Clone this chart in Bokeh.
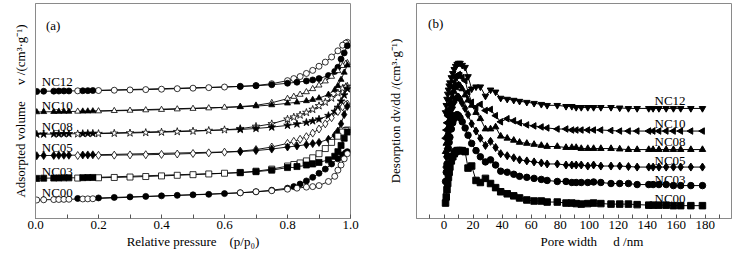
import numpy as np
from bokeh.plotting import figure
from bokeh.layouts import row
from bokeh.models import Range1d, FixedTicker, CustomJSTickFormatter
from bokeh.core.properties import value
from bokeh.embed import file_html
from bokeh.resources import INLINE

# ---------------- data ----------------
samples = ["NC12", "NC10", "NC08", "NC05", "NC03", "NC00"]

ads_p = [0.004, 0.026, 0.058, 0.074, 0.09, 0.106, 0.15, 0.166, 0.182, 0.65, 0.70, 0.75,
         0.80, 0.83, 0.86, 0.88, 0.90, 0.93, 0.95, 0.96, 0.97, 0.98, 0.99]
des_p = [0.99, 0.985, 0.975, 0.96, 0.94, 0.92, 0.90, 0.88, 0.86, 0.84, 0.82, 0.80, 0.75,
         0.70, 0.65, 0.60, 0.55, 0.50, 0.45, 0.40, 0.35, 0.30, 0.25, 0.20, 0.134]

nc12_ads = [123.5, 123.7, 123.8, 123.9, 124, 124, 124.2, 124.3, 124.4, 128.3, 129, 130,
            131.5, 132.5, 133.7, 134.7, 136, 139, 143, 147, 155, 161, 168]
nc12_des = [171.3, 170.5, 168.5, 163, 157, 152, 148, 144, 141, 138, 136, 134, 131, 129.3,
            128.5, 127.8, 127.2, 126.7, 126.2, 125.7, 125.3, 125, 124.7, 124.4, 124.1]
nc10_ads = [103.5, 103.7, 103.8, 103.9, 104, 104, 104.2, 104.3, 104.4, 108.5, 109.3, 110.3,
            112, 113, 114.3, 115.5, 117, 120.5, 125, 129, 135, 142, 149]
nc10_des = [151.3, 150.5, 148.5, 143.5, 138, 133.5, 129.5, 126, 123, 120.5, 118.5, 116.5,
            112.5, 110, 108.8, 108, 107.3, 106.8, 106.3, 105.8, 105.4, 105, 104.7, 104.4, 104.1]
nc08_ads = [81.8, 82, 82.1, 82.2, 82.3, 82.3, 82.5, 82.6, 82.7, 86.5, 87.5, 88.8, 90.5,
            91.8, 93.3, 94.8, 96.5, 100, 104, 108, 114, 120, 126]
nc08_des = [128.5, 128, 126.5, 122, 117, 113, 109.5, 106, 103, 100.5, 98.5, 96.5, 92, 89.5,
            87.3, 86.2, 85.5, 84.9, 84.4, 83.9, 83.5, 83.1, 82.8, 82.5, 82.2]
nc05_ads = [61, 61.2, 61.3, 61.4, 61.5, 61.5, 61.7, 61.8, 61.9, 65, 66, 67.5, 69.5, 70.5,
            71.8, 72.8, 74, 77, 81, 85, 92, 101, 109]
nc05_des = [111.3, 110.5, 108.5, 104, 98, 92, 87, 83, 79.5, 77, 75, 73, 69.5, 67, 65.5,
            64.5, 63.8, 63.2, 62.7, 62.3, 62, 61.8, 61.6, 61.4, 61.2]
nc03_ads = [39, 39.2, 39.3, 39.4, 39.5, 39.5, 39.7, 39.8, 39.9, 44.5, 45.5, 47, 49.5, 50.5,
            52, 53, 54.5, 57, 60.5, 65, 71, 78, 84]
nc03_des = [86, 85.5, 84, 80, 74, 68, 63, 59, 56, 54, 52.5, 51, 48, 46, 44.8, 44, 43.3,
            42.6, 42, 41.4, 40.8, 40.3, 39.9, 39.6, 39.3]
nc00_ads = [18, 18.2, 18.4, 18.5, 18.6, 18.7, 19, 19.1, 19.2, 25, 26, 27, 28.5, 29.5, 30.5,
            31, 32, 36, 41, 47, 52, 58, 63]
nc00_des = [65, 64, 62, 58, 53, 48, 44, 40, 36.5, 33.5, 31, 29.5, 27.5, 26, 25, 24.2, 23.5,
            23, 22.5, 22, 21.5, 21, 20.5, 20, 19.5]

pore_d = [1.0, 1.5, 2.0, 2.5, 3.0, 3.5, 4.0, 5.0, 6.0, 7.0, 8.0, 9.0, 10.0, 11.0, 12.5,
          14.5, 16.5, 19.0, 22.0, 25.0, 28.5, 32.0, 35.5, 39.0, 43.5, 48.0, 52.0, 57.0,
          62.0, 67.0, 71.0, 78.0, 84.0, 88.0, 91.0, 94.5, 99.0, 103.0, 108.0, 115.0,
          121.0, 127.0, 133.0, 141.0, 144.0, 148.0, 153.0, 158.0, 163.0, 170.0, 178.0]
psd_nc12 = [103, 110, 116, 121, 125, 129, 132, 137, 141, 145, 148, 150, 151, 151, 149, 147,
            138, 126, 128, 128, 119, 125, 123, 117, 116, 115, 114, 113, 112, 111, 110, 110,
            109, 109, 108, 108, 108, 108, 108, 108, 107.5, 107, 107, 107, 107, 107, 107,
            107, 107, 107, 107]
psd_nc10 = [78, 86, 93, 100, 106, 111, 115, 122, 128, 133, 137, 139, 140, 139, 137, 134,
            123, 113, 108, 111, 105, 106, 100, 94, 97, 95, 93, 91, 90, 89, 88, 87, 87, 86,
            86, 86, 86, 86, 86, 85.5, 85, 85, 85, 85, 85, 85, 85, 85, 85, 85, 85]
psd_nc08 = [65, 73, 81, 88, 94, 100, 105, 112, 118, 123, 127, 129, 130, 129, 126, 120,
            115, 110, 103, 97, 87, 87, 89, 80, 78, 76, 74, 73, 72, 71, 70, 70, 69, 69, 69,
            68, 68, 68, 68, 68, 67.5, 67, 67, 67, 67, 67, 67, 67, 67, 67, 67]
psd_nc05 = [50, 60, 68, 76, 83, 89, 94, 102, 108, 113, 116, 118, 118, 116, 112, 107, 101,
            92, 85, 78, 71, 75, 69, 63, 61, 59, 57, 56, 55, 54, 53, 53, 52, 52, 52, 52, 51,
            52, 51, 51, 51, 50.5, 50, 50, 50, 50, 50, 50, 50, 50, 50]
psd_nc03 = [36, 45, 53, 61, 68, 74, 79, 87, 93, 97, 100, 101, 100, 98, 94, 88, 81, 73, 66,
            60, 55, 57, 52, 46, 45, 43, 41, 40, 39, 38, 37, 36, 36, 35, 35, 35, 35, 35.5,
            35, 34, 34, 34, 33, 33, 33, 33, 33, 32, 32, 32, 32]
psd_nc00 = [15, 21, 28, 34, 40, 45, 50, 56, 60, 63, 65, 66, 66, 66, 66, 65, 49, 51, 37, 35,
            39, 34, 30, 26, 24, 22, 20, 18, 17, 17, 16, 16, 15, 15, 14.5, 14, 14.5, 15,
            14.5, 14, 14, 14, 13.5, 13, 13, 13, 13, 12.5, 12.5, 12.5, 12.5]

x_ticks_a = [0.0, 0.2, 0.4, 0.6, 0.8, 1.0]
x_minor_a = [0.1, 0.3, 0.5, 0.7, 0.9]
x_ticks_b = [0, 20, 40, 60, 80, 100, 120, 140, 160, 180]
x_minor_b = [-10, 10, 30, 50, 70, 90, 110, 130, 150, 170, 190]

SERIF = "Liberation Serif"
GRAY = "#8a8a8a"
NB = "\u00a0"


def style(p, xticks, xminor, ylabel_standoff, fmt_code):
    p.title.visible = False
    p.outline_line_color = GRAY
    p.outline_line_width = 1
    p.xgrid.visible = False
    p.ygrid.visible = False
    p.background_fill_color = "white"
    p.border_fill_color = "white"
    xa = p.xaxis[0]
    xa.ticker = FixedTicker(ticks=xticks, minor_ticks=xminor)
    xa.formatter = CustomJSTickFormatter(code=fmt_code)
    xa.axis_line_color = GRAY
    xa.major_tick_line_color = "#555555"
    xa.minor_tick_line_color = "#555555"
    xa.major_tick_in = 4
    xa.major_tick_out = 0
    xa.minor_tick_in = 4
    xa.minor_tick_out = 0
    xa.major_label_standoff = 2
    xa.major_label_text_font = SERIF
    xa.major_label_text_font_size = "13px"
    xa.major_label_text_color = "black"
    xa.axis_label_text_font = SERIF
    xa.axis_label_text_font_size = "13px"
    xa.axis_label_text_font_style = "normal"
    xa.axis_label_text_color = "black"
    xa.axis_label_standoff = 2
    ya = p.yaxis[0]
    ya.ticker = FixedTicker(ticks=[])
    ya.axis_line_color = GRAY
    ya.major_tick_in = 0
    ya.major_tick_out = 0
    ya.minor_tick_in = 0
    ya.minor_tick_out = 0
    ya.axis_label_text_font = SERIF
    ya.axis_label_text_font_size = "13px"
    ya.axis_label_text_font_style = "normal"
    ya.axis_label_text_color = "black"
    ya.axis_label_standoff = ylabel_standoff


pa = figure(width=378, height=259, output_backend="svg", toolbar_location=None,
            x_range=Range1d(0, 1.0), y_range=Range1d(0, 209),
            min_border_left=35, min_border_right=28, min_border_top=3, min_border_bottom=41)
pa.xaxis.axis_label = "Relative pressure" + NB * 4 + "(p/p\u2080)"
pa.yaxis.axis_label = "Adsorpted volume" + NB * 5 + "v /(cm\u00b3\u00b7g\u207b\u00b9)"
style(pa, x_ticks_a, x_minor_a, 8, "return tick.toFixed(1)")

iso = [
    (nc12_ads, nc12_des, "circle", True),
    (nc10_ads, nc10_des, "triangle", True),
    (nc08_ads, nc08_des, "star", True),
    (nc05_ads, nc05_des, "diamond", True),
    (nc03_ads, nc03_des, "square", True),
    (nc00_ads, nc00_des, "circle", False),
]
for ads, des, mk, ads_filled in iso:
    pa.line(ads_p, ads, line_color="black", line_width=0.9)
    pa.line(des_p, des, line_color="black", line_width=0.9)
    size = 8 if mk in ("star", "diamond") else 6
    pa.scatter(des_p, des, marker=mk, size=size,
               fill_color="black" if not ads_filled else "white", line_color="black",
               line_width=0.8)
    pa.scatter(ads_p, ads, marker=mk, size=size,
               fill_color="black" if ads_filled else "white", line_color="black",
               line_width=0.8)

label_y_a = [133, 110, 89, 69, 46, 25]
pa.text(x=[0.02] * 6, y=label_y_a, text=samples, text_font=value(SERIF),
        text_font_size="13px", text_baseline="middle", text_align="left", text_color="black")
pa.text(x=[0.033], y=[188], text=["(a)"], text_font=value(SERIF), text_font_size="13px",
        text_baseline="middle", text_align="left", text_color="black")

pb = figure(width=355, height=259, output_backend="svg", toolbar_location=None,
            x_range=Range1d(-19, 198), y_range=Range1d(0, 209),
            min_border_left=38, min_border_right=2, min_border_top=3, min_border_bottom=41)
pb.xaxis.axis_label = NB * 11 + "Pore width" + NB * 5 + "d /nm"
pb.yaxis.axis_label = "Desorption dv/dd /(cm\u00b3\u00b7g\u207b\u00b9)"
style(pb, x_ticks_b, x_minor_b, 14, "return tick.toFixed(0)")

psd = [
    (psd_nc12, "inverted_triangle", 0.0),
    (psd_nc10, "triangle", np.pi / 2),
    (psd_nc08, "triangle", 0.0),
    (psd_nc05, "diamond", 0.0),
    (psd_nc03, "circle", 0.0),
    (psd_nc00, "square", 0.0),
]
for vals, mk, ang in psd:
    pb.line(pore_d, vals, line_color="black", line_width=1)
    pb.scatter(pore_d, vals, marker=mk, size=8 if mk == "diamond" else 6.5, angle=ang,
               fill_color="black", line_color="black")

label_y_b = [115, 92, 75, 56, 38, 19]
pb.text(x=[145] * 6, y=label_y_b, text=samples, text_font=value(SERIF),
        text_font_size="13px", text_baseline="middle", text_align="left", text_color="black")
pb.text(x=[-11], y=[190], text=["(b)"], text_font=value(SERIF), text_font_size="13px",
        text_baseline="middle", text_align="left", text_color="black")

layout = row(pa, pb)
open("out.html", "w").write(file_html(layout, INLINE))
